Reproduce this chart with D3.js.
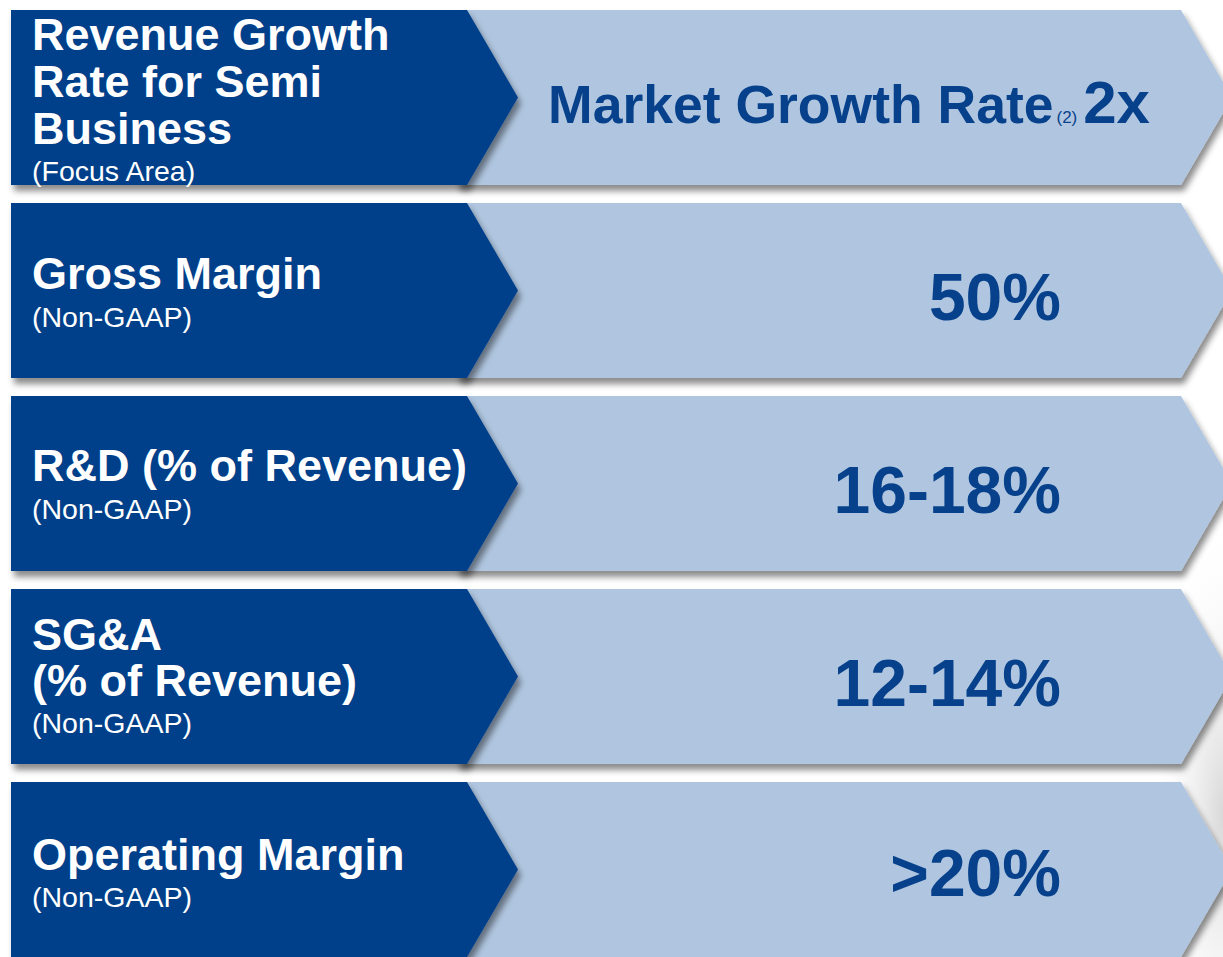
<!DOCTYPE html>
<html>
<head>
<meta charset="utf-8">
<script src="https://cdn.jsdelivr.net/npm/d3@7/dist/d3.min.js"></script>
<style>
  html, body { margin: 0; padding: 0; background: #ffffff; }
  svg { display: block; }
  text { font-family: "Liberation Sans", Arial, sans-serif; }
</style>
</head>
<body>
<svg id="chart" width="1223" height="957"></svg>
<script>
// ---- data ----
const metrics = ["Revenue Growth Rate for Semi Business", "Gross Margin", "R&D (% of Revenue)", "SG&A (% of Revenue)", "Operating Margin"];
const titleLines = [
  ["Revenue Growth", "Rate for Semi", "Business"],
  ["Gross Margin"],
  ["R&D (% of Revenue)"],
  ["SG&A", "(% of Revenue)"],
  ["Operating Margin"]
];
const subtitles = ["(Focus Area)", "(Non-GAAP)", "(Non-GAAP)", "(Non-GAAP)", "(Non-GAAP)"];
const targets = ["2x", "50%", "16-18%", "12-14%", ">20%"];
const targetPrefix = ["Market Growth Rate", "", "", "", ""];
const targetNote = ["(2)", "", "", "", ""];

// ---- layout ----
const W = 1223, H = 957;
const svg = d3.select("#chart");
const defs = svg.append("defs");

const shadow = defs.append("filter").attr("id", "shadow")
  .attr("x", "-5%").attr("y", "-10%").attr("width", "115%").attr("height", "135%");
shadow.append("feDropShadow").attr("dx", 3).attr("dy", 6).attr("stdDeviation", 3)
  .attr("flood-color", "#000").attr("flood-opacity", 0.45);

const bg = defs.append("radialGradient").attr("id", "bgGlow")
  .attr("cx", "100%").attr("cy", "72%").attr("r", "60%");
bg.append("stop").attr("offset", "0%").attr("stop-color", "#d8d8d8");
bg.append("stop").attr("offset", "100%").attr("stop-color", "#ffffff").attr("stop-opacity", 0);
svg.append("rect").attr("x", 1100).attr("y", 450).attr("width", 123).attr("height", 507)
  .attr("fill", "url(#bgGlow)");

const y = d3.scaleBand().domain(d3.range(metrics.length)).range([10, H]).paddingInner(18 / 193).paddingOuter(0);

const darkLeft = 11, darkRight = 467, darkTip = 518;
const lightRight = 1181, lightTip = 1232;

const DARK = "#06418a", LIGHT = "#b0c6e0", VALUE = "#07418b";

// per-row text baselines (offsets from the row top)
const titleOffsets = [[40, 87, 134], [86], [85], [61, 107], [88]];
const subOffsets = [171, 124, 123, 144, 125];
const valueOffsets = [113, 117, 117, 117, 114];

const rows = svg.selectAll("g.row").data(metrics).join("g").attr("class", "row")
  .attr("transform", (d, i) => `translate(0,${y(i)})`);

const h = y.bandwidth();

// light band (drawn first, dark chevron goes on top)
rows.append("path")
  .attr("d", `M${darkRight - 10},0 L${lightRight},0 L${lightTip},${h / 2} L${lightRight},${h} L${darkRight - 10},${h} Z`)
  .attr("fill", LIGHT).attr("filter", "url(#shadow)");

// dark chevron
rows.append("path")
  .attr("d", `M${darkLeft},0 L${darkRight},0 L${darkTip},${h / 2} L${darkRight},${h} L${darkLeft},${h} Z`)
  .attr("fill", DARK).attr("filter", "url(#shadow)");

rows.each(function(d, i) {
  const g = d3.select(this);
  titleLines[i].forEach((line, k) => {
    g.append("text").attr("x", 32).attr("y", titleOffsets[i][k])
      .attr("fill", "#ffffff").attr("font-weight", "bold").attr("font-size", 45)
      .text(line);
  });
  g.append("text").attr("x", 32).attr("y", subOffsets[i])
    .attr("fill", "#ffffff").attr("font-size", 28.5).text(subtitles[i]);

  if (targetPrefix[i]) {
    const t = g.append("text").attr("x", 1150).attr("y", valueOffsets[i])
      .attr("text-anchor", "end").attr("fill", VALUE).attr("font-weight", "bold");
    t.append("tspan").attr("font-size", 53.5).text(targetPrefix[i]);
    t.append("tspan").attr("font-size", 17).attr("font-weight", "normal").attr("dx", 3).text(targetNote[i]);
    t.append("tspan").attr("font-size", 60).attr("dx", 6).text(targets[i]);
  } else {
    g.append("text").attr("x", 1061).attr("y", valueOffsets[i])
      .attr("text-anchor", "end").attr("fill", VALUE).attr("font-weight", "bold")
      .attr("font-size", 66).text(targets[i]);
  }
});
</script>
</body>
</html>
